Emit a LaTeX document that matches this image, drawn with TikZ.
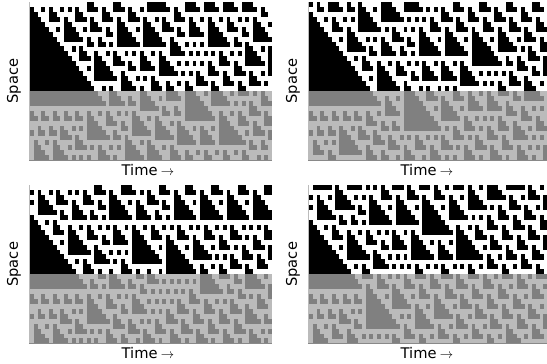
\documentclass[tikz,border=0pt]{standalone}
\usepackage{fontspec}
\setmainfont{DejaVu Sans}
\usetikzlibrary{positioning}

\definecolor{darkcell}{HTML}{808080}
\definecolor{lightcell}{HTML}{BBBBBB}
\tikzset{
    blackcell/.style={fill=black},
    graycell/.style={fill=darkcell},
    axislabel/.style={font=\fontsize{11}{13}\selectfont, inner sep=0pt}
}

\newcommand{\cellw}{3.78}
\newcommand{\cellh}{4.94}
\newcommand{\setcell}[3]{\expandafter\xdef\csname cell#1x#2\endcsname{#3}}
\newcommand{\getcell}[2]{\csname cell#1x#2\endcsname}

% one panel: name, left, top, rows that start black
\newcommand{\panel}[4]{
    \begin{scope}[shift={(#2,#3)}]
        \fill[white] (0,0) rectangle (64*\cellw,18*\cellh);
        \fill[lightcell] (0,18*\cellh) rectangle (64*\cellw,32*\cellh);
        % first column
        \foreach \r in {0,...,31} {\setcell{0}{\r}{1}}
        \foreach \r in {#4} {\setcell{0}{\r}{0}}
        % next columns
        \foreach \t [remember=\t as \prev (initially 0)] in {1,...,63} {
            \foreach \r [evaluate=\r as \below using {int(mod(\r+1,32))},
                         evaluate=\r as \above using {int(mod(\r+31,32))}] in {0,...,31} {
                \setcell{\t}{\r}{\ifcase\numexpr 4*\getcell{\prev}{\below}+2*\getcell{\prev}{\r}+\getcell{\prev}{\above}\relax 0\or 1\or 1\or 1\or 0\or 1\or 1\or 0\fi}
            }
        }
        % cells
        \foreach \t in {0,...,63} {
            \foreach \r in {0,...,31} {
                \ifnum\getcell{\t}{\r}=0
                    \ifnum\r<18
                        \path[blackcell] (\t*\cellw,\r*\cellh) rectangle +(\cellw+0.15,\cellh+0.15);
                    \else
                        \path[graycell] (\t*\cellw,\r*\cellh) rectangle +(\cellw+0.15,\ifnum\r=31 \cellh\else\cellh+0.15\fi);
                    \fi
                \fi
            }
        }
        % thin edges
        \fill[lightcell] (-1,0) rectangle (0,32*\cellh);
        \fill[darkcell!85!lightcell] (-1,32*\cellh) rectangle (64*\cellw,32*\cellh+1);
        \node[axislabel, rotate=90] (space#1) at (-16,79) {Space};
        \node[axislabel] (time#1) at (118,168) {Time\hspace{2.5pt}{\fontsize{9.6}{12}\selectfont$\rightarrow$}};
    \end{scope}
}

\begin{document}
\begin{tikzpicture}[x=0.75pt,y=-0.75pt]
    \useasboundingbox (0,0) rectangle (547,364);

    \panel{a}{30}{2}{1,...,20,22,23,26}
    \panel{b}{309}{2}{0,2,3,...,20,22,23,26}
    \panel{c}{30}{185.3}{1,3,6,7,...,20,22,23,26}
    \panel{d}{309}{185.3}{2,4,7,8,...,20,22,23,26}
\end{tikzpicture}
\end{document}
